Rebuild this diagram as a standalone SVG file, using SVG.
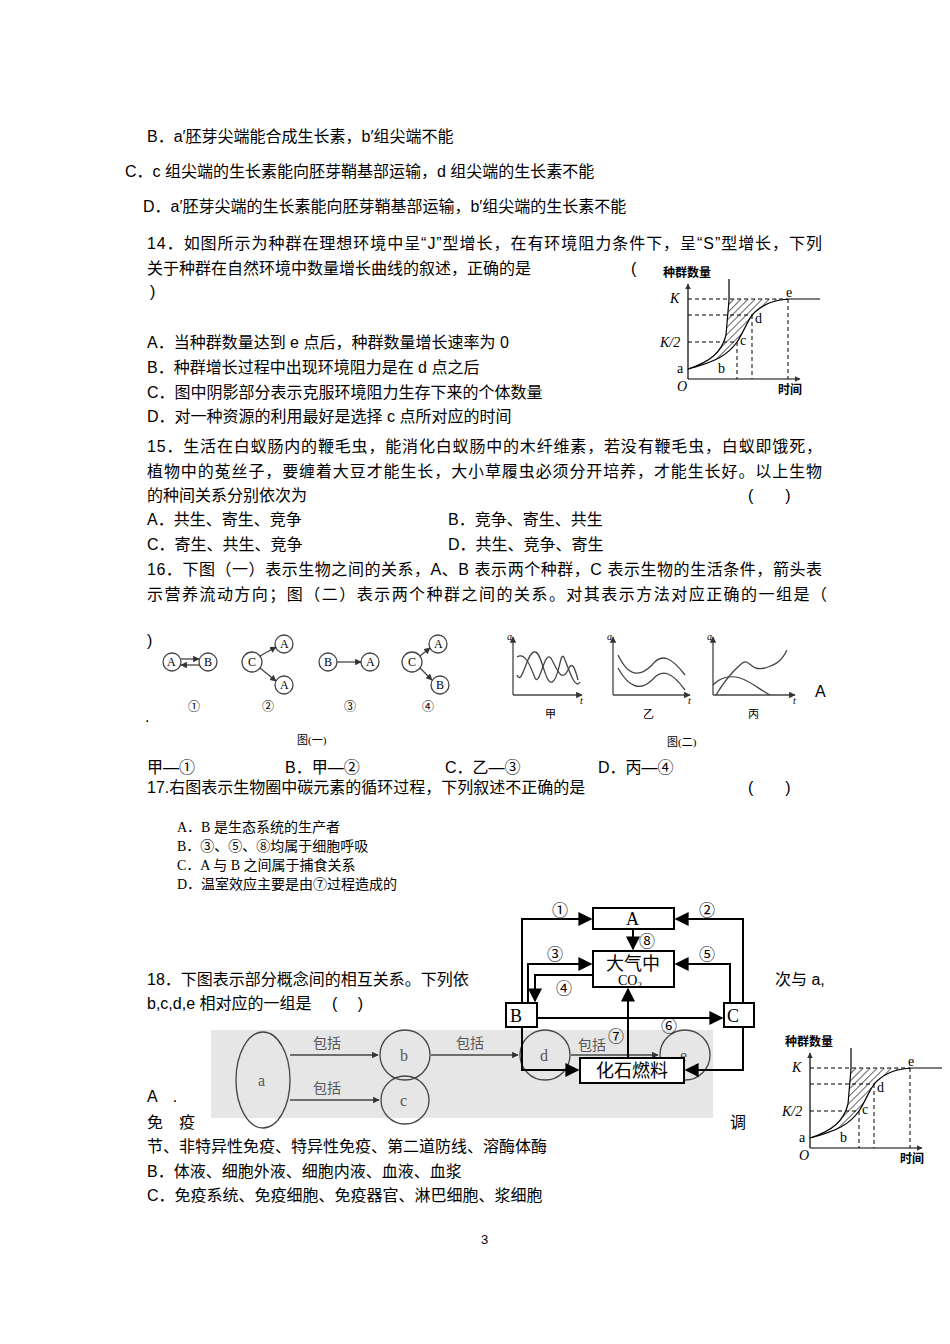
<svg xmlns="http://www.w3.org/2000/svg" width="950" height="1344" viewBox="0 0 950 1344">
<style>
text{font-family:"Liberation Sans","Noto Sans CJK SC",sans-serif;font-size:16px;fill:#000}
.s{font-family:"Liberation Serif","Noto Sans CJK SC",serif;font-size:14px}
.g{font-family:"Liberation Serif","Noto Sans CJK SC",serif;font-size:12px}
.ln{stroke:#000;stroke-width:1.2;fill:none}
.bx{stroke:#000;stroke-width:2;fill:#fff}
.cy{stroke:#000;stroke-width:2;fill:none}
.dash{stroke:#000;stroke-width:1;stroke-dasharray:4 3;fill:none}
.gr{stroke:#444;stroke-width:1.3;fill:none}
.c18{font-size:18px}
.c16{font-size:16px}
.c11{font-size:11px}
.c10{font-size:10px;font-style:italic}
.gy{fill:#555}
</style>
<defs>
<marker id="ar" viewBox="0 0 10 10" refX="9" refY="5" markerWidth="7" markerHeight="7" orient="auto"><path d="M0,0 L10,5 L0,10 z" fill="#000"/></marker>
<marker id="as" viewBox="0 0 10 10" refX="9" refY="5" markerWidth="5" markerHeight="5" orient="auto"><path d="M0,0 L10,5 L0,10 z" fill="#333"/></marker>
<pattern id="hatch" width="5" height="5" patternUnits="userSpaceOnUse" patternTransform="rotate(45)"><line x1="0" y1="0" x2="0" y2="5" stroke="#000" stroke-width="1.2"/></pattern>
<g id="popgraph">
<path d="M729,299 L729,300 L726,335 C722,352 710,362 700,366 C715,362 728,355 737,342 C745,330 748,318 755,312 C765,303 775,300 788,299 Z" fill="url(#hatch)"/>
<line class="ln" x1="688" y1="379" x2="688" y2="284" marker-end="url(#as)"/>
<line class="ln" x1="688" y1="379" x2="800" y2="379" marker-end="url(#as)"/>
<path class="ln" d="M688,369 C715,362 728,355 737,342 C745,330 748,318 755,312 C765,303 775,300 790,299 L820,299"/>
<path class="ln" d="M688,369 C710,362 722,352 726,335 L729,300 L729,279"/>
<path class="dash" d="M688,299 H788 M688,315 H752 M688,342 H737 M737,342 V379 M752,315 V379 M788,299 V379"/>
<text class="g" x="663" y="277" font-weight="bold">种群数量</text>
<text class="s" x="670" y="303" font-style="italic">K</text>
<text class="s" x="660" y="347" font-style="italic">K/2</text>
<text class="s" x="677" y="373">a</text>
<text class="s" x="718" y="373">b</text>
<text class="s" x="740" y="345">c</text>
<text class="s" x="755" y="323">d</text>
<text class="s" x="786" y="297">e</text>
<text class="s" x="677" y="391" font-style="italic">O</text>
<text class="g" x="778" y="394" font-weight="bold">时间</text>
</g>
</defs>
<rect width="950" height="1344" fill="#fff"/>

<g id="text">
<text x="147" y="142">B．a′胚芽尖端能合成生长素，b′组尖端不能</text>
<text x="125" y="177">C．c 组尖端的生长素能向胚芽鞘基部运输，d 组尖端的生长素不能</text>
<text x="143" y="212">D．a′胚芽尖端的生长素能向胚芽鞘基部运输，b′组尖端的生长素不能</text>
<text x="147" y="249" textLength="675">14．如图所示为种群在理想环境中呈“J”型增长，在有环境阻力条件下，呈“S”型增长，下列</text>
<text x="147" y="274">关于种群在自然环境中数量增长曲线的叙述，正确的是</text>
<text x="631" y="274">(</text>
<text x="150" y="297">)</text>
<text x="147" y="348">A．当种群数量达到 e 点后，种群数量增长速率为 0</text>
<text x="147" y="373">B．种群增长过程中出现环境阻力是在 d 点之后</text>
<text x="147" y="398">C．图中阴影部分表示克服环境阻力生存下来的个体数量</text>
<text x="147" y="422">D．对一种资源的利用最好是选择 c 点所对应的时间</text>
<text x="147" y="452" textLength="675">15．生活在白蚁肠内的鞭毛虫，能消化白蚁肠中的木纤维素，若没有鞭毛虫，白蚁即饿死，</text>
<text x="147" y="477" textLength="675">植物中的菟丝子，要缠着大豆才能生长，大小草履虫必须分开培养，才能生长好。以上生物</text>
<text x="147" y="501">的种间关系分别依次为</text>
<text x="748" y="501">(　　)</text>
<text x="147" y="525">A．共生、寄生、竞争</text>
<text x="448" y="525">B．竞争、寄生、共生</text>
<text x="147" y="550">C．寄生、共生、竞争</text>
<text x="448" y="550">D．共生、竞争、寄生</text>
<text x="147" y="575" textLength="675">16．下图（一）表示生物之间的关系，A、B 表示两个种群，C 表示生物的生活条件，箭头表</text>
<text x="147" y="600" textLength="680">示营养流动方向；图（二）表示两个种群之间的关系。对其表示方法对应正确的一组是（</text>
<text x="147" y="646">)</text>
<text x="815" y="697">A</text>
<text x="145" y="722">.</text>
<text x="147" y="773">甲—①</text>
<text x="285" y="773">B．甲—②</text>
<text x="445" y="773">C．乙—③</text>
<text x="598" y="773">D．丙—④</text>
<text x="147" y="793">17.右图表示生物圈中碳元素的循环过程，下列叙述不正确的是</text>
<text x="748" y="793">(　　)</text>
<text class="s" x="177" y="832">A．B 是生态系统的生产者</text>
<text class="s" x="177" y="851">B．③、⑤、⑧均属于细胞呼吸</text>
<text class="s" x="177" y="870">C．A 与 B 之间属于捕食关系</text>
<text class="s" x="177" y="889">D．温室效应主要是由⑦过程造成的</text>
<text x="147" y="985">18．下图表示部分概念间的相互关系。下列依</text>
<text x="775" y="985">次与 a,</text>
<text x="147" y="1009">b,c,d,e 相对应的一组是　 (　 )</text>
<text x="147" y="1102">A　.</text>
<text x="147" y="1128">免　疫</text>
<text x="730" y="1128">调</text>
<text x="147" y="1152">节、非特异性免疫、特异性免疫、第二道防线、溶酶体酶</text>
<text x="147" y="1177">B．体液、细胞外液、细胞内液、血液、血浆</text>
<text x="147" y="1201">C．免疫系统、免疫细胞、免疫器官、淋巴细胞、浆细胞</text>
<text x="481" y="1244" style="font-size:13px">3</text>
</g>

<g id="graph14"><use href="#popgraph"/></g>
<g id="graph18"><use href="#popgraph" transform="translate(122,769)"/></g>

<g id="fig1">
<g class="gr" stroke-width="1.6">
<circle cx="172" cy="662" r="9"/><circle cx="208" cy="662" r="9"/>
<circle cx="252" cy="662" r="10"/><circle cx="284" cy="644" r="9"/><circle cx="284" cy="685" r="9"/>
<circle cx="328" cy="662" r="9"/><circle cx="370" cy="662" r="9"/>
<circle cx="412" cy="662" r="10"/><circle cx="438" cy="644" r="9"/><circle cx="440" cy="685" r="9"/>
</g>
<g class="gr">
<line x1="181" y1="659" x2="199" y2="659" marker-end="url(#as)"/>
<line x1="199" y1="665" x2="181" y2="665" marker-end="url(#as)"/>
<line x1="260" y1="656" x2="276" y2="647" marker-end="url(#as)"/>
<line x1="260" y1="668" x2="276" y2="681" marker-end="url(#as)"/>
<line x1="337" y1="662" x2="361" y2="662" marker-end="url(#as)"/>
<line x1="420" y1="656" x2="430" y2="648" marker-end="url(#as)"/>
<line x1="420" y1="668" x2="432" y2="680" marker-end="url(#as)"/>
</g>
<g>
<text class="g" x="167" y="666">A</text><text class="g" x="204" y="666">B</text>
<text class="g" x="248" y="666">C</text><text class="g" x="280" y="648">A</text><text class="g" x="280" y="689">A</text>
<text class="g" x="324" y="666">B</text><text class="g" x="366" y="666">A</text>
<text class="g" x="408" y="666">C</text><text class="g" x="434" y="648">A</text><text class="g" x="436" y="689">B</text>
<text class="g" x="188" y="711">①</text><text class="g" x="262" y="711">②</text><text class="g" x="344" y="711">③</text><text class="g" x="422" y="711">④</text>
<text class="g c11" x="297" y="744">图(一)</text>
</g>
</g>

<g id="fig2">
<g class="gr">
<line x1="513" y1="695" x2="513" y2="637" marker-end="url(#as)"/><line x1="513" y1="695" x2="582" y2="695" marker-end="url(#as)"/>
<line x1="613" y1="695" x2="613" y2="637" marker-end="url(#as)"/><line x1="613" y1="695" x2="690" y2="695" marker-end="url(#as)"/>
<line x1="713" y1="695" x2="713" y2="637" marker-end="url(#as)"/><line x1="713" y1="695" x2="795" y2="695" marker-end="url(#as)"/>
<path d="M517,657 C525,652 530,665 535,678 C540,688 545,645 552,660 C558,672 562,682 568,670 C572,660 575,668 578,680"/>
<path d="M517,675 C522,688 527,650 535,652 C542,652 545,685 552,682 C560,680 560,645 565,660 C570,672 575,690 580,682"/>
<path d="M618,655 C630,680 642,675 652,665 C662,652 672,658 685,675"/>
<path d="M618,668 C630,690 642,690 652,680 C662,668 672,672 685,690"/>
<path d="M716,695 C725,680 732,672 740,665 C750,655 748,672 765,668 C778,664 782,660 787,650"/>
<path d="M713,685 C720,678 730,675 740,678 C752,682 760,690 770,695"/>
</g>
<g>
<text class="g c10" x="507" y="640">a</text>
<text class="g c10" x="607" y="640">a</text>
<text class="g c10" x="707" y="640">a</text>
<text class="g c10" x="580" y="704">t</text>
<text class="g c10" x="688" y="704">t</text>
<text class="g c10" x="793" y="704">t</text>
<text class="g c11" x="545" y="718">甲</text>
<text class="g c11" x="643" y="718">乙</text>
<text class="g c11" x="748" y="718">丙</text>
<text class="g c11" x="667" y="746">图(二)</text>
</g>
</g>

<g id="concept">
<rect x="211" y="1030" width="502" height="88" fill="#e6e6e6"/>
<g class="gr" stroke="#555">
<ellipse cx="263" cy="1080" rx="27" ry="48"/>
<circle cx="405" cy="1055" r="25"/><circle cx="405" cy="1100" r="24"/>
<circle cx="545" cy="1055" r="25"/><circle cx="685" cy="1055" r="25"/>
<line x1="290" y1="1055" x2="378" y2="1055" marker-end="url(#as)"/>
<line x1="290" y1="1100" x2="379" y2="1100" marker-end="url(#as)"/>
<line x1="431" y1="1055" x2="518" y2="1055" marker-end="url(#as)"/>
<line x1="571" y1="1055" x2="658" y2="1055" marker-end="url(#as)"/>
</g>
<g>
<text class="s c16 gy" x="258" y="1086">a</text>
<text class="s c16 gy" x="400" y="1061">b</text>
<text class="s c16 gy" x="400" y="1106">c</text>
<text class="s c16 gy" x="540" y="1061">d</text>
<text class="s c16 gy" x="680" y="1061">e</text>
<text class="s gy" x="313" y="1048">包括</text>
<text class="s gy" x="313" y="1093">包括</text>
<text class="s gy" x="456" y="1048">包括</text>
<text class="s gy" x="578" y="1050">包括</text>
</g>
</g>

<g id="carbon-connectors" class="cy">
<path d="M522,1003 V919 H591" marker-end="url(#ar)"/>
<path d="M743,1003 V919 H676" marker-end="url(#ar)"/>
<path d="M633,929 V949" marker-end="url(#ar)"/>
<path d="M528,1003 V964 H591" marker-end="url(#ar)"/>
<path d="M593,975 H535 V1001" marker-end="url(#ar)"/>
<path d="M730,1003 V964 H676" marker-end="url(#ar)"/>
<path d="M537,1018 H722" marker-end="url(#ar)"/>
<path d="M628,1058 V989" marker-end="url(#ar)"/>
<path d="M522,1027 V1070 H578" marker-end="url(#ar)"/>
<path d="M743,1027 V1070 H686" marker-end="url(#ar)"/>
</g>
<g id="nodeA"><rect class="bx" x="593" y="908" width="81" height="21"/><text class="s c18" x="626" y="925">A</text></g>
<g id="nodeCO2"><rect class="bx" x="593" y="951" width="81" height="36"/><text class="s c18" x="606" y="970">大气中</text><text class="s" x="618" y="985">CO<tspan style="font-size:9px" dy="3">2</tspan></text></g>
<g id="nodeB"><rect class="bx" x="506" y="1003" width="31" height="24"/><text class="s c18" x="510" y="1022">B</text></g>
<g id="nodeC"><rect class="bx" x="724" y="1003" width="30" height="24"/><text class="s c18" x="727" y="1022">C</text></g>
<g id="nodeFossil"><rect class="bx" x="580" y="1058" width="104" height="25"/><text class="s c18" x="596" y="1077">化石燃料</text></g>
<g id="carbon-labels">
<text class="s c16" x="552" y="916">①</text>
<text class="s c16" x="699" y="916">②</text>
<text class="s c16" x="639" y="947">⑧</text>
<text class="s c16" x="547" y="960">③</text>
<text class="s c16" x="699" y="960">⑤</text>
<text class="s c16" x="556" y="994">④</text>
<text class="s c16" x="661" y="1032">⑥</text>
<text class="s c16" x="608" y="1042">⑦</text>
</g>
</svg>
